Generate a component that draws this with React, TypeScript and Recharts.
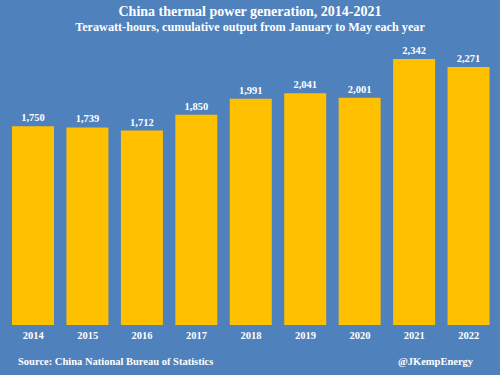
import React from "react";
import { BarChart, Bar, XAxis, YAxis, LabelList } from "recharts";

const years = ["2014", "2015", "2016", "2017", "2018", "2019", "2020", "2021", "2022"];
const output = [1750, 1739, 1712, 1850, 1991, 2041, 2001, 2342, 2271];

const data = years.map((y, i) => ({ year: y, value: output[i] }));

const BG = "#4f81bd";
const BAR = "#ffc000";
const FONT = "'Liberation Serif', 'DejaVu Serif', serif";

const fmt = (v: any) => Number(v).toLocaleString("en-US");

export default function App() {
  return (
    <div
      style={{
        position: "fixed",
        left: 0,
        top: 0,
        width: 500,
        height: 375,
        background: BG,
        fontFamily: FONT,
        color: "#fff",
        overflow: "hidden",
      }}
    >
      <div
        style={{
          position: "absolute",
          top: 3,
          left: 0,
          width: 500,
          textAlign: "center",
          fontWeight: "bold",
          fontSize: 14,
          lineHeight: "17px",
        }}
      >
        China thermal power generation, 2014-2021
      </div>
      <div
        style={{
          position: "absolute",
          top: 19,
          left: 0,
          width: 500,
          textAlign: "center",
          fontWeight: "bold",
          fontSize: 12.2,
          lineHeight: "16px",
        }}
      >
        Terawatt-hours, cumulative output from January to May each year
      </div>
      <div style={{ position: "absolute", left: 0, top: 0 }}>
        <BarChart
          width={500}
          height={375}
          data={data}
          margin={{ top: 41, right: 4, bottom: 30, left: 6 }}
        >
          <YAxis hide domain={[0, 2500]} />
          <XAxis
            dataKey="year"
            axisLine={false}
            tickLine={false}
            tickSize={0}
            tickMargin={7}
            height={20}
            interval={0}
            tick={{ fill: "#fff", fontSize: 10.5, fontWeight: "bold", fontFamily: FONT }}
          />
          <Bar dataKey="value" fill={BAR} barSize={42} isAnimationActive={false}>
            <LabelList
              dataKey="value"
              position="top"
              offset={5}
              formatter={fmt}
              style={{ fill: "#fff", fontSize: 10.5, fontWeight: "bold", fontFamily: FONT }}
            />
          </Bar>
        </BarChart>
      </div>
      <div
        style={{
          position: "absolute",
          left: 18,
          top: 355,
          fontWeight: "bold",
          fontSize: 10.5,
          lineHeight: "14px",
        }}
      >
        Source: China National Bureau of Statistics
      </div>
      <div
        style={{
          position: "absolute",
          left: 398,
          top: 355,
          fontWeight: "bold",
          fontSize: 10.5,
          lineHeight: "14px",
        }}
      >
        @JKempEnergy
      </div>
    </div>
  );
}
